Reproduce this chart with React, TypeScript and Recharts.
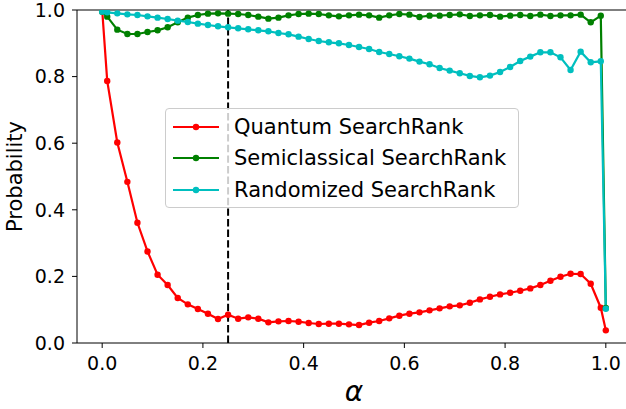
import React from 'react';
import { LineChart, Line, XAxis, YAxis, ReferenceLine, Legend } from 'recharts';

const alphas = [
  0, 0.01, 0.03, 0.05, 0.07, 0.09, 0.11, 0.13, 0.15, 0.17, 0.19, 0.21, 0.23, 0.25, 0.27, 0.29,
  0.31, 0.33, 0.35, 0.37, 0.39, 0.41, 0.43, 0.45, 0.47, 0.49, 0.51, 0.53, 0.55, 0.57, 0.59,
  0.61, 0.63, 0.65, 0.67, 0.69, 0.71, 0.73, 0.75, 0.77, 0.79, 0.81, 0.83, 0.85, 0.87, 0.89,
  0.91, 0.93, 0.95, 0.97, 0.99, 1.0,
];

const quantum = [
  1.0, 0.787, 0.602, 0.484, 0.361, 0.275, 0.205, 0.174, 0.135, 0.116, 0.102, 0.088, 0.072, 0.085, 0.073, 0.077,
  0.073, 0.062, 0.065, 0.066, 0.064, 0.06, 0.057, 0.058, 0.058, 0.056, 0.054, 0.061, 0.066, 0.074, 0.082,
  0.088, 0.092, 0.098, 0.104, 0.11, 0.113, 0.121, 0.131, 0.139, 0.146, 0.151, 0.157, 0.164, 0.174, 0.187,
  0.199, 0.208, 0.207, 0.178, 0.106, 0.038,
];

const semiclassical = [
  0.995, 0.98, 0.941, 0.928, 0.928, 0.934, 0.939, 0.948, 0.963, 0.977, 0.985, 0.989, 0.99, 0.989, 0.988, 0.985,
  0.98, 0.974, 0.977, 0.984, 0.988, 0.989, 0.988, 0.984, 0.981, 0.984, 0.986, 0.984, 0.977, 0.984, 0.988,
  0.986, 0.979, 0.983, 0.983, 0.985, 0.987, 0.982, 0.984, 0.985, 0.98, 0.983, 0.985, 0.982, 0.986, 0.982,
  0.984, 0.984, 0.986, 0.963, 0.983, 0.105,
];

const randomized = [
  0.995, 0.993, 0.99, 0.987, 0.985, 0.981, 0.977, 0.973, 0.968, 0.964, 0.959, 0.955, 0.951, 0.948, 0.945, 0.942,
  0.939, 0.936, 0.931, 0.927, 0.92, 0.913, 0.907, 0.903, 0.9, 0.895, 0.889, 0.883, 0.874, 0.868, 0.861,
  0.854, 0.845, 0.837, 0.826, 0.818, 0.81, 0.802, 0.798, 0.803, 0.814, 0.829, 0.847, 0.86, 0.873, 0.873,
  0.858, 0.82, 0.875, 0.843, 0.846, 0.103,
];

const xTicks = [0, 0.2, 0.4, 0.6, 0.8, 1.0];
const yTicks = [0, 0.2, 0.4, 0.6, 0.8, 1.0];
const seriesKeys = ['quantum', 'semiclassical', 'randomized'];
const seriesNames = ['Quantum SearchRank', 'Semiclassical SearchRank', 'Randomized SearchRank'];
const seriesColors = ['#ff0000', '#008000', '#00bfbf'];
const markerAlpha = 0.25;
const xLabel = 'α';
const yLabel = 'Probability';

const data = alphas.map((a, i) => ({
  alpha: a,
  quantum: quantum[i],
  semiclassical: semiclassical[i],
  randomized: randomized[i],
}));

const FONT = '"DejaVu Sans", sans-serif';

const LegendBox = () => (
  <div
    style={{
      width: 354,
      height: 100,
      boxSizing: 'border-box',
      border: '1px solid #cccccc',
      borderRadius: 4,
      background: 'rgba(255,255,255,0.8)',
      position: 'relative',
      fontFamily: FONT,
    }}
  >
    {seriesNames.map((name, i) => (
      <div
        key={name}
        style={{
          position: 'absolute',
          left: 7,
          top: 17.7 + i * 31.6 - 15,
          height: 30,
          display: 'flex',
          alignItems: 'center',
          whiteSpace: 'nowrap',
        }}
      >
        <svg width={46} height={10} style={{ display: 'block' }}>
          <line x1={0} y1={5} x2={46} y2={5} stroke={seriesColors[i]} strokeWidth={2.2} />
          <circle cx={23} cy={5} r={3.2} fill={seriesColors[i]} />
        </svg>
        <span style={{ marginLeft: 15, fontSize: 21, lineHeight: '30px', color: '#000' }}>{name}</span>
      </div>
    ))}
  </div>
);

const AlphaLabel = (props: any) => {
  const vb = props.viewBox || {};
  return (
    <text
      x={vb.x + vb.width / 2}
      y={vb.y + 58}
      textAnchor="middle"
      fontSize={28}
      fontStyle="italic"
      fontFamily={FONT}
      fill="#000"
    >
      {xLabel}
    </text>
  );
};

const ProbLabel = (props: any) => {
  const vb = props.viewBox || {};
  const cx = 22;
  const cy = vb.y + vb.height / 2;
  return (
    <text
      x={cx}
      y={cy}
      textAnchor="middle"
      fontSize={21}
      fontFamily={FONT}
      fill="#000"
      transform={`rotate(-90, ${cx}, ${cy})`}
    >
      {yLabel}
    </text>
  );
};

export default function App() {
  return (
    <div
      style={{
        position: 'absolute',
        left: 0,
        top: 0,
        width: 626,
        height: 409,
        overflow: 'hidden',
        background: '#fff',
        fontFamily: FONT,
      }}
    >
      <LineChart width={640} height={409} data={data} margin={{ top: 10, right: 9, left: 0, bottom: 0 }}>
        <XAxis
          dataKey="alpha"
          type="number"
          domain={[-0.05, 1.05]}
          allowDataOverflow
          ticks={xTicks}
          interval={0}
          tickFormatter={(v: number) => v.toFixed(1)}
          height={66}
          tickSize={5}
          tickMargin={9}
          stroke="#000"
          tick={{ fill: '#000', fontSize: 19, fontFamily: FONT }}
          label={<AlphaLabel />}
        />
        <YAxis
          type="number"
          domain={[0, 1]}
          allowDataOverflow
          ticks={yTicks}
          interval={0}
          tickFormatter={(v: number) => v.toFixed(1)}
          width={77}
          tickSize={5}
          tickMargin={7}
          stroke="#000"
          tick={{ fill: '#000', fontSize: 19, fontFamily: FONT }}
          label={<ProbLabel />}
        />
        <ReferenceLine y={1} stroke="#000" strokeWidth={1.1} />
        <ReferenceLine x={markerAlpha} stroke="#000" strokeWidth={2} strokeDasharray="7.4 3.2" />
        {seriesKeys.map((k, i) => (
          <Line
            key={k}
            type="linear"
            dataKey={k}
            name={seriesNames[i]}
            stroke={seriesColors[i]}
            strokeWidth={2.2}
            dot={{ r: 3.2, fill: seriesColors[i], stroke: seriesColors[i], strokeWidth: 0 }}
            activeDot={false}
            isAnimationActive={false}
          />
        ))}
        <Legend
          layout="vertical"
          align="center"
          verticalAlign="middle"
          content={<LegendBox />}
          wrapperStyle={{ left: 165, top: 108, width: 354, height: 100 }}
        />
      </LineChart>
    </div>
  );
}
